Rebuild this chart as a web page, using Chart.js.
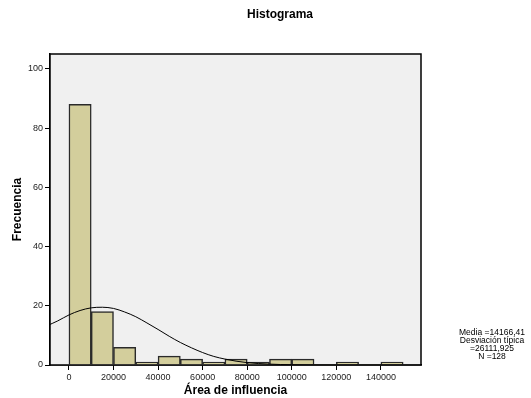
<!DOCTYPE html>
<html>
<head>
<meta charset="utf-8">
<script src="https://cdn.jsdelivr.net/npm/chart.js@4/dist/chart.umd.min.js"></script>
<style>
  html, body { margin: 0; padding: 0; background: #ffffff; }
  #wrap { position: relative; width: 531px; height: 398px; }
  #title { position: absolute; left: 180px; width: 200px; top: 7px; text-align: center;
           font-family: "Liberation Sans", Arial, sans-serif; font-size: 12px; font-weight: bold; color: #000; }
  #stats { position: absolute; left: 440px; width: 104px; top: 328px; text-align: center;
           font-family: "Liberation Sans", Arial, sans-serif; font-size: 8.5px; line-height: 8px; color: #000; }
</style>
</head>
<body>
<div id="wrap">
  <canvas id="c" width="531" height="398"></canvas>
  <div id="title"></div>
  <div id="stats">Media =14166,41<br>Desviación típica<br>=26111,925<br>N =128</div>
</div>
<script>
// Histogram bins (centres of 10000-wide bins) and frequencies
const binCenters = [5000, 15000, 25000, 35000, 45000, 55000, 65000, 75000, 85000, 95000, 105000, 115000, 125000, 135000, 145000];
const frequencies = [88, 18, 6, 1, 3, 2, 1, 2, 1, 2, 2, 0, 1, 0, 1];

// Normal curve
const curveX = [-10000, -5000, 0, 5000, 10000, 15000, 20000, 25000, 30000, 35000, 40000, 45000, 50000, 55000, 60000, 65000, 70000, 75000, 80000, 85000, 90000, 95000, 100000, 110000, 120000, 130000, 140000, 150000, 160000];
const curveY = [13.2, 14.9, 16.9, 18.4, 19.3, 19.5, 19.1, 17.9, 16.3, 14.2, 12.0, 9.7, 7.6, 5.8, 4.2, 2.9, 2.0, 1.3, 0.8, 0.5, 0.3, 0.16, 0.09, 0.02, 0.0, 0.0, 0.0, 0.0, 0.0];

const xTicks = [0, 20000, 40000, 60000, 80000, 100000, 120000, 140000];
const yTicks = [0, 20, 40, 60, 80, 100];

const chartTitle = 'Histograma';
const xTitle = 'Área de influencia';
const yTitle = 'Frecuencia';

document.getElementById('title').textContent = chartTitle;

const FONT = '"Liberation Sans", Arial, sans-serif';

const plotFrame = {
  id: 'plotFrame',
  beforeDatasetsDraw(chart) {
    const { ctx, chartArea: a } = chart;
    ctx.save();
    ctx.fillStyle = '#F0F0F0';
    ctx.fillRect(a.left, a.top, a.right - a.left, a.bottom - a.top);
    ctx.restore();
  },
  afterDraw(chart) {
    const { ctx, chartArea: a } = chart;
    ctx.save();
    ctx.strokeStyle = '#000';
    ctx.lineWidth = 1.5;
    ctx.strokeRect(a.left, a.top, a.right - a.left, a.bottom - a.top);
    ctx.restore();
  }
};

new Chart(document.getElementById('c'), {
  type: 'bar',
  data: {
    datasets: [
      {
        type: 'line',
        data: curveX.map((x, i) => ({ x: x, y: curveY[i] })),
        borderColor: '#000',
        borderWidth: 1,
        pointRadius: 0,
        tension: 0.4,
        cubicInterpolationMode: 'monotone',
        fill: false,
        order: 0
      },
      {
        type: 'bar',
        data: binCenters.map((x, i) => ({ x: x, y: frequencies[i] })),
        backgroundColor: '#D3CE9C',
        borderColor: '#2a2a2a',
        borderWidth: (c) => (c.raw && c.raw.y > 0 ? 1.5 : 0),
        borderSkipped: 'start',
        barPercentage: 1,
        categoryPercentage: 1,
        grouped: false,
        order: 1
      }
    ]
  },
  options: {
    responsive: false,
    animation: false,
    devicePixelRatio: 1,
    layout: { padding: { left: 0, right: 110, top: 54, bottom: 0 } },
    plugins: {
      legend: { display: false },
      tooltip: { enabled: false },
      title: { display: false }
    },
    scales: {
      x: {
        type: 'linear',
        min: -8500,
        max: 158000,
        offset: false,
        afterBuildTicks: (s) => { s.ticks = xTicks.map(v => ({ value: v })); },
        afterFit: (s) => { s.height = 33; },
        ticks: { color: '#222', font: { family: FONT, size: 9 }, padding: 2, maxRotation: 0, autoSkip: false,
                 callback: (v) => String(v) },
        grid: { display: true, offset: false, drawOnChartArea: false, drawTicks: true, tickLength: 5, color: '#000', lineWidth: 1 },
        border: { display: true, color: '#000', width: 1.5 },
        title: { display: true, text: xTitle, color: '#000', font: { family: FONT, size: 12, weight: 'bold' }, padding: { top: 0, bottom: 0 } }
      },
      y: {
        type: 'linear',
        min: 0,
        max: 105,
        afterBuildTicks: (s) => { s.ticks = yTicks.map(v => ({ value: v })); },
        afterFit: (s) => { s.width = 50; },
        ticks: { color: '#222', font: { family: FONT, size: 9 }, padding: 2 },
        grid: { display: true, drawOnChartArea: false, drawTicks: true, tickLength: 5, color: '#000', lineWidth: 1 },
        border: { display: true, color: '#000', width: 1.5 },
        title: { display: true, text: yTitle, color: '#000', font: { family: FONT, size: 12, weight: 'bold' }, padding: { top: 10, bottom: 0 } }
      }
    }
  },
  plugins: [plotFrame]
});
</script>
</body>
</html>
